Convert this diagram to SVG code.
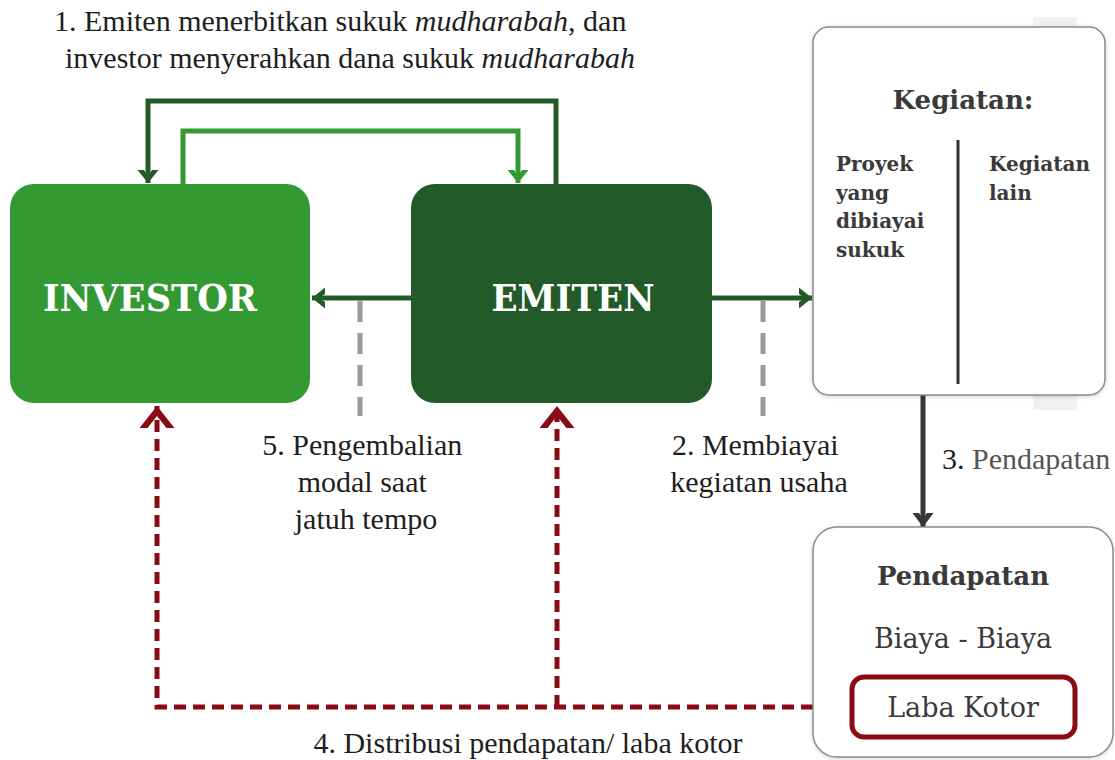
<svg xmlns="http://www.w3.org/2000/svg" width="1115" height="760" viewBox="0 0 1115 760">
  <style>
    .lbl { font-family: "Liberation Serif", "DejaVu Serif", serif; font-size: 30px; fill: #1e1e1e; }
    .box { font-family: "DejaVu Serif", serif; font-size: 27px; fill: #3a3a3a; }
    .it { font-style: italic; }
    .big { font-family: "DejaVu Serif", serif; font-weight: bold; font-size: 37px; fill: #ffffff; }
    .head { font-family: "DejaVu Serif", serif; font-weight: bold; font-size: 26px; fill: #3a3a3a; }
    .sub { font-family: "DejaVu Serif", serif; font-weight: bold; font-size: 20px; fill: #3a3a3a; }
    .card { fill: #ffffff; stroke: #8c8c8c; stroke-width: 1.5; }
    .dk { fill: none; stroke: #235a29; stroke-width: 5; }
    .lt { fill: none; stroke: #339933; stroke-width: 5; }
    .red { fill: none; stroke: #8b0b15; stroke-width: 5; stroke-dasharray: 12 7; }
    .gray { fill: none; stroke: #9a9a9a; stroke-width: 5; stroke-dasharray: 21 11; }
    .dark { fill: none; stroke: #3a3634; stroke-width: 5; }
  </style>
  <defs>
    <filter id="soft" x="-10%" y="-10%" width="120%" height="120%">
      <feDropShadow dx="0" dy="1" stdDeviation="2" flood-color="#000" flood-opacity="0.18"/>
    </filter>
    <marker id="hDark" viewBox="-15 -12 17 24" markerWidth="17" markerHeight="24" refX="0" refY="0" orient="auto" markerUnits="userSpaceOnUse">
      <path d="M-13,-10.5 L0,0 L-13,10.5 L-13,4 L-7,0 L-13,-4 Z" fill="#235a29"/>
    </marker>
    <marker id="hLight" viewBox="-15 -12 17 24" markerWidth="17" markerHeight="24" refX="0" refY="0" orient="auto" markerUnits="userSpaceOnUse">
      <path d="M-13,-10.5 L0,0 L-13,10.5 L-13,4 L-7,0 L-13,-4 Z" fill="#339933"/>
    </marker>
    <marker id="hGrey" viewBox="-16 -12 18 24" markerWidth="18" markerHeight="24" refX="0" refY="0" orient="auto" markerUnits="userSpaceOnUse">
      <path d="M-14,-10.5 L0,0 L-14,10.5 L-14,4 L-8,0 L-14,-4 Z" fill="#3a3634"/>
    </marker>
    <marker id="hRed" viewBox="-24 -19 26 38" markerWidth="26" markerHeight="38" refX="0" refY="0" orient="auto" markerUnits="userSpaceOnUse">
      <path d="M-22,-17.5 L0,0 L-22,17.5 L-22,9.5 L-10,0 L-22,-9.5 Z" fill="#8b0b15"/>
    </marker>
  </defs>

  <rect width="1115" height="760" fill="#ffffff"/>

  <!-- faint backing panel behind the activity card -->
  <rect x="1033" y="17" width="44" height="393" fill="#f1f1f1"/>

  <!-- connectors -->
  <g id="connectors">
    <path class="dk" d="M556,184 V101 H148 V183" marker-end="url(#hDark)"/>
    <path class="lt" d="M183,184 V131 H518 V183" marker-end="url(#hLight)"/>
    <path class="dk" d="M411,298 H312" stroke-width="4" marker-end="url(#hDark)"/>
    <path class="dk" d="M712,298 H812" stroke-width="4" marker-end="url(#hDark)"/>
    <path class="gray" d="M360,301 V416"/>
    <path class="gray" d="M763,301 V416"/>
    <path class="dark" d="M923,395 V527" marker-end="url(#hGrey)"/>
    <path class="red" d="M851,707 H157 V406" marker-end="url(#hRed)"/>
    <path class="red" d="M557,707 V406" marker-end="url(#hRed)"/>
  </g>

  <!-- investor -->
  <g id="investor">
    <rect x="10" y="184" width="300" height="219" rx="24" fill="#339933"/>
    <text class="big" x="150" y="311" text-anchor="middle" textLength="214" lengthAdjust="spacingAndGlyphs">INVESTOR</text>
  </g>

  <!-- issuer -->
  <g id="emiten">
    <rect x="411" y="184" width="301" height="219" rx="24" fill="#235a29"/>
    <text class="big" x="573" y="311" text-anchor="middle" textLength="163" lengthAdjust="spacingAndGlyphs">EMITEN</text>
  </g>

  <!-- activities -->
  <g id="kegiatan">
    <rect class="card" x="813" y="27" width="292" height="368" rx="16" filter="url(#soft)"/>
    <text class="head" x="963" y="109" text-anchor="middle">Kegiatan:</text>
    <line x1="958" y1="140" x2="958" y2="384" stroke="#333" stroke-width="3"/>
    <text class="sub" x="836">
      <tspan x="836" y="171">Proyek</tspan>
      <tspan x="836" y="200">yang</tspan>
      <tspan x="836" y="228">dibiayai</tspan>
      <tspan x="836" y="257">sukuk</tspan>
    </text>
    <text class="sub" x="989">
      <tspan x="989" y="171">Kegiatan</tspan>
      <tspan x="989" y="200">lain</tspan>
    </text>
  </g>

  <!-- income -->
  <g id="pendapatan">
    <rect class="card" x="813" y="527" width="300" height="230" rx="24" filter="url(#soft)"/>
    <text class="head" x="963" y="585" text-anchor="middle">Pendapatan</text>
    <text class="box" x="963" y="648" text-anchor="middle">Biaya - Biaya</text>
  </g>

  <!-- gross profit -->
  <g id="laba-kotor">
    <rect x="852" y="677" width="223" height="60" rx="12" fill="#ffffff" stroke="#8b0b15" stroke-width="5"/>
    <text class="box" x="963" y="717" text-anchor="middle">Laba Kotor</text>
  </g>

  <!-- step labels -->
  <g id="labels">
    <text class="lbl" x="54" y="31">1. Emiten menerbitkan sukuk <tspan class="it">mudharabah</tspan>, dan</text>
    <text class="lbl" x="65" y="68">investor menyerahkan dana sukuk <tspan class="it">mudharabah</tspan></text>
    <text class="lbl" text-anchor="middle">
      <tspan x="366" y="455">5. Pengembalian</tspan>
      <tspan x="366" y="492">modal saat</tspan>
      <tspan x="366" y="529">jatuh tempo</tspan>
    </text>
    <text class="lbl" text-anchor="middle">
      <tspan x="759" y="455">2. Membiayai</tspan>
      <tspan x="759" y="492">kegiatan usaha</tspan>
    </text>
    <text class="lbl" x="942" y="469">3. <tspan fill="#555555">Pendapatan</tspan></text>
    <text class="lbl" x="528" y="753" text-anchor="middle">4. Distribusi pendapatan/ laba kotor</text>
  </g>
</svg>
